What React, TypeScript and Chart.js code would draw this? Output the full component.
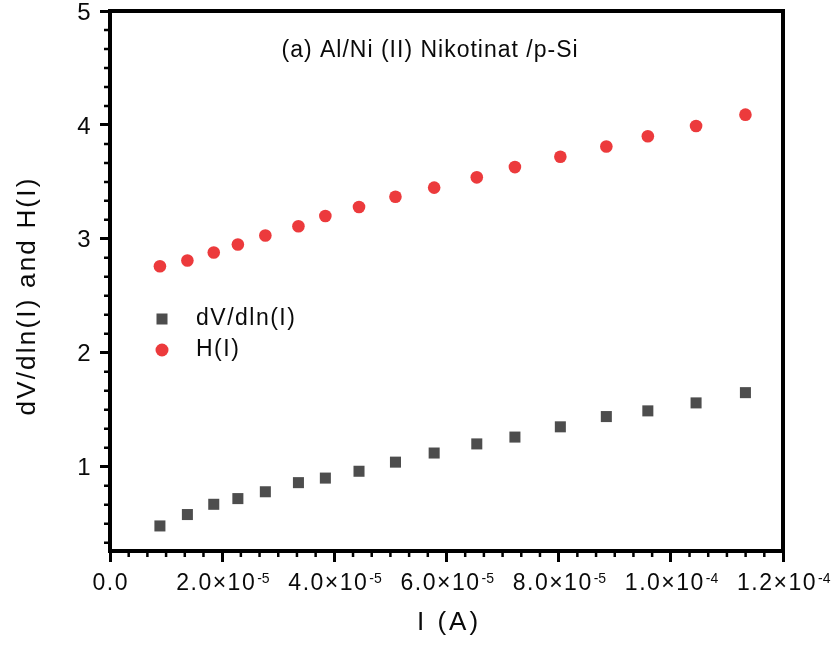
import { useEffect, useRef } from 'react';
import { Chart, registerables } from 'chart.js';

Chart.register(...registerables);

// ---- data ----
const CURRENT_A = [
  0.89e-5, 1.38e-5, 1.85e-5, 2.28e-5, 2.77e-5, 3.36e-5, 3.84e-5, 4.44e-5, 5.09e-5,
  5.78e-5, 6.54e-5, 7.22e-5, 8.03e-5, 8.85e-5, 9.59e-5, 1.045e-4, 1.133e-4,
];
const DV_DLN_I = [
  0.48, 0.58, 0.67, 0.72, 0.78, 0.86, 0.9, 0.96, 1.04, 1.12, 1.2, 1.26, 1.35, 1.44, 1.49, 1.56, 1.65,
];
const H_I = [
  2.76, 2.81, 2.88, 2.95, 3.03, 3.11, 3.2, 3.28, 3.37, 3.45, 3.54, 3.63, 3.72, 3.81, 3.9, 3.99, 4.09,
];
const SERIES_LABELS = ['dV/dln(I)', 'H(I)'];
const SERIES_COLORS = ['#4d4d4d', '#ec3a3c'];

const X_TICKS = [0, 2e-5, 4e-5, 6e-5, 8e-5, 1e-4, 1.2e-4];
const X_TICK_MANTISSA = ['0.0', '2.0×10', '4.0×10', '6.0×10', '8.0×10', '1.0×10', '1.2×10'];
const X_TICK_EXPONENT = ['', '-5', '-5', '-5', '-5', '-4', '-4'];
const Y_TICKS = [1, 2, 3, 4, 5];
const Y_TICK_LABELS = ['1', '2', '3', '4', '5'];
const X_MIN = 0;
const X_MAX = 1.2e-4;
const Y_MIN = 0.26;
const Y_MAX = 5;
const MINOR_DIVISIONS = 6;

const ANNOTATION = '(a) Al/Ni (II) Nikotinat /p-Si';
const X_TITLE = 'I (A)';
const Y_TITLE = 'dV/dln(I) and H(I)';

const FONT = "'Liberation Sans', Arial, Helvetica, sans-serif";
const TEXT = '#0a0a0a';

const decorPlugin = {
  id: 'decor',
  beforeDraw(chart: any) {
    chart.ctx.letterSpacing = '1.5px';
  },
  afterDraw(chart: any) {
    const { ctx, chartArea: a, scales } = chart;
    const xs = scales.x;
    const ys = scales.y;
    ctx.save();

    // minor ticks
    ctx.strokeStyle = '#000';
    ctx.lineWidth = 2.5;
    ctx.beginPath();
    for (let i = 0; i < X_TICKS.length - 1; i++) {
      for (let k = 1; k < MINOR_DIVISIONS; k++) {
        const v = X_TICKS[i] + ((X_TICKS[i + 1] - X_TICKS[i]) * k) / MINOR_DIVISIONS;
        const px = xs.getPixelForValue(v);
        ctx.moveTo(px, a.bottom);
        ctx.lineTo(px, a.bottom + 6);
      }
    }
    const n0 = Math.ceil(Y_MIN * MINOR_DIVISIONS);
    const n1 = Math.floor(Y_MAX * MINOR_DIVISIONS);
    for (let n = n0; n <= n1; n++) {
      if (n % MINOR_DIVISIONS === 0) continue;
      const py = ys.getPixelForValue(n / MINOR_DIVISIONS);
      ctx.moveTo(a.left, py);
      ctx.lineTo(a.left - 6, py);
    }
    ctx.stroke();

    // frame
    ctx.lineWidth = 4;
    ctx.strokeRect(a.left, a.top, a.right - a.left, a.bottom - a.top);

    // x tick labels with superscript exponents
    ctx.fillStyle = TEXT;
    ctx.textBaseline = 'alphabetic';
    ctx.textAlign = 'left';
    X_TICKS.forEach((v, i) => {
      const px = xs.getPixelForValue(v);
      ctx.font = `23px ${FONT}`;
      ctx.letterSpacing = '1.5px';
      const wm = ctx.measureText(X_TICK_MANTISSA[i]).width;
      ctx.font = `14px ${FONT}`;
      ctx.letterSpacing = '0px';
      const we = X_TICK_EXPONENT[i] ? ctx.measureText(X_TICK_EXPONENT[i]).width + 1 : 0;
      const x0 = px - (wm + we) / 2 + 0.75;
      ctx.font = `23px ${FONT}`;
      ctx.letterSpacing = '1.5px';
      ctx.fillText(X_TICK_MANTISSA[i], x0, 590);
      if (X_TICK_EXPONENT[i]) {
        ctx.font = `14px ${FONT}`;
        ctx.letterSpacing = '0px';
        ctx.fillText(X_TICK_EXPONENT[i], x0 + wm + 1, 583);
      }
    });

    // annotation
    ctx.fillStyle = TEXT;
    ctx.font = `23px ${FONT}`;
    ctx.letterSpacing = '1px';
    ctx.textAlign = 'left';
    ctx.textBaseline = 'middle';
    ctx.fillText(ANNOTATION, 281.5, 51);

    // legend
    const rows = [319, 350];
    chart.data.datasets.forEach((ds: any, i: number) => {
      const cy = rows[i];
      ctx.fillStyle = ds.backgroundColor;
      if (ds.pointStyle === 'rect') {
        ctx.fillRect(162 - 5.5, cy - 5.5, 11, 11);
      } else {
        ctx.beginPath();
        ctx.arc(162, cy, 6.5, 0, Math.PI * 2);
        ctx.fill();
      }
      ctx.fillStyle = TEXT;
      ctx.font = `23px ${FONT}`;
      ctx.letterSpacing = '1.5px';
      ctx.textAlign = 'left';
      ctx.textBaseline = 'middle';
      ctx.fillText(ds.label, 196, cy);
    });

    // axis titles
    ctx.fillStyle = TEXT;
    ctx.font = `26px ${FONT}`;
    ctx.letterSpacing = '3px';
    ctx.textAlign = 'center';
    ctx.textBaseline = 'middle';
    ctx.fillText(X_TITLE, 449, 623);

    ctx.save();
    ctx.translate(27.5, 296);
    ctx.rotate(-Math.PI / 2);
    ctx.letterSpacing = '2.2px';
    ctx.fillText(Y_TITLE, 0, 0);
    ctx.restore();

    ctx.restore();
  },
};

export default function App() {
  const ref = useRef<HTMLCanvasElement | null>(null);

  useEffect(() => {
    if (!ref.current) return;
    const chart = new Chart(ref.current, {
      type: 'scatter',
      data: {
        datasets: [
          {
            label: SERIES_LABELS[0],
            data: CURRENT_A.map((x, i) => ({ x, y: DV_DLN_I[i] })),
            pointStyle: 'rect',
            pointRadius: 7.8,
            backgroundColor: SERIES_COLORS[0],
            borderColor: SERIES_COLORS[0],
            borderWidth: 0,
          },
          {
            label: SERIES_LABELS[1],
            data: CURRENT_A.map((x, i) => ({ x, y: H_I[i] })),
            pointStyle: 'circle',
            pointRadius: 6.3,
            backgroundColor: SERIES_COLORS[1],
            borderColor: SERIES_COLORS[1],
            borderWidth: 0,
          },
        ],
      },
      options: {
        responsive: false,
        animation: false,
        events: [],
        layout: { padding: { left: 0, top: 11, right: 52, bottom: 0 } },
        plugins: { legend: { display: false }, tooltip: { enabled: false }, title: { display: false } },
        scales: {
          x: {
            type: 'linear',
            min: X_MIN,
            max: X_MAX,
            border: { display: false },
            grid: {
              drawOnChartArea: false,
              drawTicks: true,
              tickLength: 11,
              tickWidth: 3,
              tickColor: '#000',
              color: '#000',
            },
            afterBuildTicks: (scale: any) => {
              scale.ticks = X_TICKS.map((value) => ({ value }));
            },
            afterFit: (scale: any) => {
              scale.height = 102;
              scale.paddingLeft = 0;
              scale.paddingRight = 0;
            },
            ticks: {
              display: false,
              autoSkip: false,
              maxRotation: 0,
              minRotation: 0,
            },
          },
          y: {
            type: 'linear',
            min: Y_MIN,
            max: Y_MAX,
            border: { display: false },
            grid: {
              drawOnChartArea: false,
              drawTicks: true,
              tickLength: 10,
              tickWidth: 3,
              tickColor: '#000',
              color: '#000',
            },
            afterBuildTicks: (scale: any) => {
              scale.ticks = Y_TICKS.map((value) => ({ value }));
            },
            afterFit: (scale: any) => {
              scale.width = 110;
              scale.paddingTop = 0;
              scale.paddingBottom = 0;
            },
            ticks: {
              autoSkip: false,
              padding: 8,
              labelOffset: 2,
              color: TEXT,
              font: { family: FONT, size: 24 },
              callback: (_v: any, i: number) => Y_TICK_LABELS[i],
            },
          },
        },
      },
      plugins: [decorPlugin],
    } as any);
    return () => chart.destroy();
  }, []);

  return (
    <div style={{ position: 'fixed', left: 0, top: 0, width: 835, height: 653, background: '#fff' }}>
      <canvas ref={ref} width={835} height={653} style={{ display: 'block' }} />
    </div>
  );
}
